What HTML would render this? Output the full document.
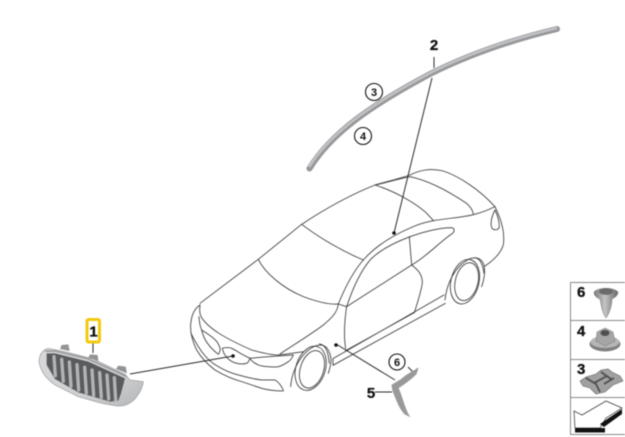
<!DOCTYPE html>
<html><head><meta charset="utf-8"><style>
html,body{margin:0;padding:0;background:#fff;width:625px;height:437px;overflow:hidden}
svg{display:block;filter:blur(.4px)}
text{font-family:"Liberation Sans",sans-serif}
</style></head><body>
<svg width="625" height="437" viewBox="0 0 625 437" xmlns="http://www.w3.org/2000/svg">
<defs>
<linearGradient id="g1" x1="0" y1="0" x2="1" y2="1"><stop offset="0" stop-color="#d8d9db"/><stop offset=".6" stop-color="#d0d1d3"/><stop offset="1" stop-color="#b4b6b8"/></linearGradient>
<linearGradient id="f" x1="0" y1="0" x2="1" y2="0"><stop offset="0" stop-color="#7a7a7a"/><stop offset=".45" stop-color="#c4c4c4"/><stop offset="1" stop-color="#666"/></linearGradient>
</defs>

<!-- Moulding 2 -->
<path d="M309.5 168.5C332 132 372 105 430 74C470 54 515 39 557 29" fill="none" stroke="#96979a" stroke-width="6" stroke-linecap="round"/>
<path d="M309 167C332 131 372 104 430 73C470 53 515 38 557 28" fill="none" stroke="#c0c1c3" stroke-width="2.6"/>

<!-- Car -->
<g transform="translate(180 160) scale(.3333)" fill="none" stroke="#3c3c3c" stroke-width="2.6" stroke-linejoin="round" stroke-linecap="round">
<path d="M60 430L235 298L365 193C430 150 510 105 585 75C620 65 660 55 690 45C720 30 750 24 790 33C840 50 900 90 945 140C965 180 975 220 970 255C960 285 935 305 915 318"/>
<path d="M585 75C620 68 660 55 690 50C740 60 800 90 860 130C872 142 878 150 880 162"/>
<path d="M585 75C640 92 700 125 735 155C745 165 755 175 760 182"/>
<path d="M760 182C800 175 850 172 880 164C905 158 925 150 945 140"/>
<path d="M945 150C935 170 930 190 936 205C945 214 958 208 958 200C958 180 952 165 945 150Z"/>
<path d="M365 193C420 235 490 275 550 300"/>
<path d="M235 298C255 340 310 385 370 410C410 425 445 435 475 432"/>
<path d="M475 432C490 395 515 340 550 300C585 260 640 225 700 200C720 190 740 186 760 182"/>
<path d="M500 440C515 395 540 335 572 298C605 265 650 245 690 230C730 215 780 203 815 203C825 205 825 215 815 222C780 245 740 290 695 315L500 440"/>
<path d="M688 230L695 315"/>
<path d="M695 315C715 330 728 345 727 370C722 400 712 430 703 458"/>
<path d="M500 440C494 480 491 530 497 565"/>
<path d="M475 432C472 460 450 478 430 495C390 525 340 555 300 582"/>
<path d="M475 432L500 440"/>
<path d="M459 596L792 405M459 616L796 430M459 596V616M497 572L703 458"/>
<ellipse cx="855" cy="365" rx="42" ry="68" transform="rotate(14 855 365)"/>
<ellipse cx="860" cy="365" rx="34" ry="58" transform="rotate(14 860 365)"/>
<path d="M795 420C800 370 825 320 865 298C890 288 908 295 913 320C916 340 912 360 905 380"/>
<path d="M885 293C900 296 908 310 912 340"/>
<ellipse cx="392" cy="625" rx="44" ry="68" transform="rotate(18 392 625)"/>
<ellipse cx="396" cy="628" rx="35" ry="58" transform="rotate(18 396 628)"/>
<path d="M332 680C335 635 360 580 405 558C430 550 445 558 452 590C455 605 450 625 445 640"/>
<path d="M418 552C440 555 445 580 448 610"/>
<path d="M60 435C58 450 60 465 65 473C85 505 135 535 215 570C250 580 275 585 295 585C320 583 350 578 370 575"/>
<path d="M60 435C45 445 36 460 33 485C28 515 38 545 50 570C65 595 85 615 105 630C130 645 160 658 185 665L245 685C270 692 290 693 310 693"/>
<path d="M57 470C58 490 60 500 65 510C70 535 85 560 115 583C120 575 122 570 120 565C115 545 105 535 65 510"/>
<path d="M33 520C45 545 55 560 65 575C80 595 95 610 115 620C135 632 155 640 175 645C200 652 225 658 245 660H285C295 665 305 680 310 690"/>
<path d="M127 565C135 562 148 562 155 565C170 572 180 580 190 585L210 595C207 603 205 608 200 610C190 613 180 612 170 610C150 605 132 590 127 565Z"/>
<path d="M210 595C230 593 250 591 265 590L340 585C335 597 330 602 325 605C315 612 305 618 295 620C275 622 250 620 235 615C225 610 215 605 210 595Z"/>
</g>

<!-- Leaders -->
<g fill="none" stroke="#2a2a2a" stroke-width="1">
<path d="M434 57V68"/>
<path d="M432 78L394 233"/>
<path d="M130 374L233 356"/>
<path d="M336 344L395 380"/>
<path d="M93 343V353"/>
<path d="M375 392H392"/>
<path d="M408 367L413 372"/>
</g>
<circle cx="394" cy="233" r="1.8" fill="#111"/>
<circle cx="233" cy="356" r="1.8" fill="#111"/>
<circle cx="336" cy="345" r="1.8" fill="#111"/>

<!-- Part 5 -->
<path d="M392 385L402 379C408 373 414 372 418 368L416 374C410 380 404 384 398 388C402 396 404 408 409 416L405 414C399 408 396 398 393 391Z" fill="#98999b" stroke="#98999b" stroke-width="1"/>

<!-- Callouts -->
<g fill="#fff" stroke="#111" stroke-width="1.1">
<circle cx="374" cy="92" r="8.5"/>
<circle cx="363" cy="136" r="8.5"/>
<circle cx="397" cy="362" r="8"/>
</g>
<g font-size="11" font-weight="700" text-anchor="middle" fill="#111">
<text x="374" y="96">3</text>
<text x="363" y="140">4</text>
<text x="397" y="366">6</text>
</g>
<g font-size="15" font-weight="700" fill="#111" stroke="#111" stroke-width=".3" text-anchor="middle">
<text x="434" y="50">2</text>
<text x="371" y="398">5</text>
</g>

<!-- Part 1 grille -->
<g transform="translate(35 335) scale(.3333)">
<path d="M75 42L80 30L100 28L104 48ZM160 68L165 58L188 60L190 78ZM243 102L250 92L272 95L276 115Z" fill="#929395"/>
<path d="M12 75C14 58 24 42 40 40L90 50L175 72L270 118L285 135L325 140C324 152 316 170 305 185C297 197 285 205 270 211C255 214 245 213 240 212L200 205L130 185L60 150C40 135 25 120 20 105C15 95 12 85 12 75Z" fill="url(#g1)" stroke="#97989a" stroke-width="2"/>
<path d="M35 55L60 55L160 80L270 130L258 175L250 197L225 200L130 172L60 132L35 90Z" fill="#5a5b5d"/>
<g stroke="#b3b4b6" stroke-width="10" fill="none" stroke-linecap="round">
<path d="M57 65L61 122M80 73L85 139M103 81L108 154M126 89L131 165M149 97L154 174M171 105L176 181M194 113L199 187M216 120L221 192M238 128L242 195"/>
</g>
<path d="M30 48L60 48L160 72L275 124" fill="none" stroke="#9a9b9d" stroke-width="5"/>
</g>

<!-- Label 1 -->
<rect x="87" y="319.5" width="12.5" height="22.5" rx="1.5" fill="#fff" stroke="#f3c90f" stroke-width="3"/>
<text x="93.5" y="336.5" font-size="15" font-weight="700" fill="#111" stroke="#111" stroke-width=".3" text-anchor="middle">1</text>

<!-- Fastener table -->
<g fill="#fff" stroke="#8a8a8a" stroke-width="1">
<rect x="570.5" y="282.5" width="60" height="152"/>
<path d="M570 320.5H625M570 359.5H625M570 397.5H625"/>
</g>
<g font-size="15" font-weight="700" fill="#111" stroke="#111" stroke-width=".3">
<text x="577" y="297">6</text>
<text x="577" y="336">4</text>
<text x="577" y="374">3</text>
</g>
<!-- fastener 6 -->
<path d="M594 292C598 287 614 287 618 292C618 296 614 298 612 299C612 304 610 313 606 318C602 313 601 304 600 299C597 298 594 296 594 292Z" fill="url(#f)" stroke="#777" stroke-width=".5"/>
<ellipse cx="606" cy="291.5" rx="7" ry="3.3" fill="#6a6a6a"/>
<!-- fastener 4 -->
<ellipse cx="605" cy="344" rx="15.5" ry="7.5" fill="#7f7f7f"/>
<ellipse cx="605" cy="342" rx="14.5" ry="6" fill="#b5b5b5"/>
<path d="M597 332L605 328L613 332L615 341L605 346L596 341Z" fill="#a5a5a5" stroke="#777" stroke-width=".5"/>
<ellipse cx="605" cy="333" rx="4.5" ry="3" fill="#4e4e4e"/>
<!-- fastener 3 -->
<path d="M580 381L586 377L596 374L601 370L608 369L612 372L620 376L623 381L613 385L605 392L596 394L590 388L583 386Z" fill="#a0a0a0" stroke="#666" stroke-width=".6"/>
<path d="M586 378L596 384L600 392M601 372L611 379M594 383L607 376M604 384L614 378" fill="none" stroke="#4e4e4e" stroke-width="1.8"/>
<!-- arrow icon -->
<path d="M574 411L582 415L606 401L622 408L606 418L600 428H575Z" fill="#fff" stroke="#444" stroke-width=".8"/>
<path d="M575 428H605V432.5H575Z" fill="#111"/>
<path d="M600 424L622 409V414L604 427Z" fill="#111"/>
</svg>
</body></html>
